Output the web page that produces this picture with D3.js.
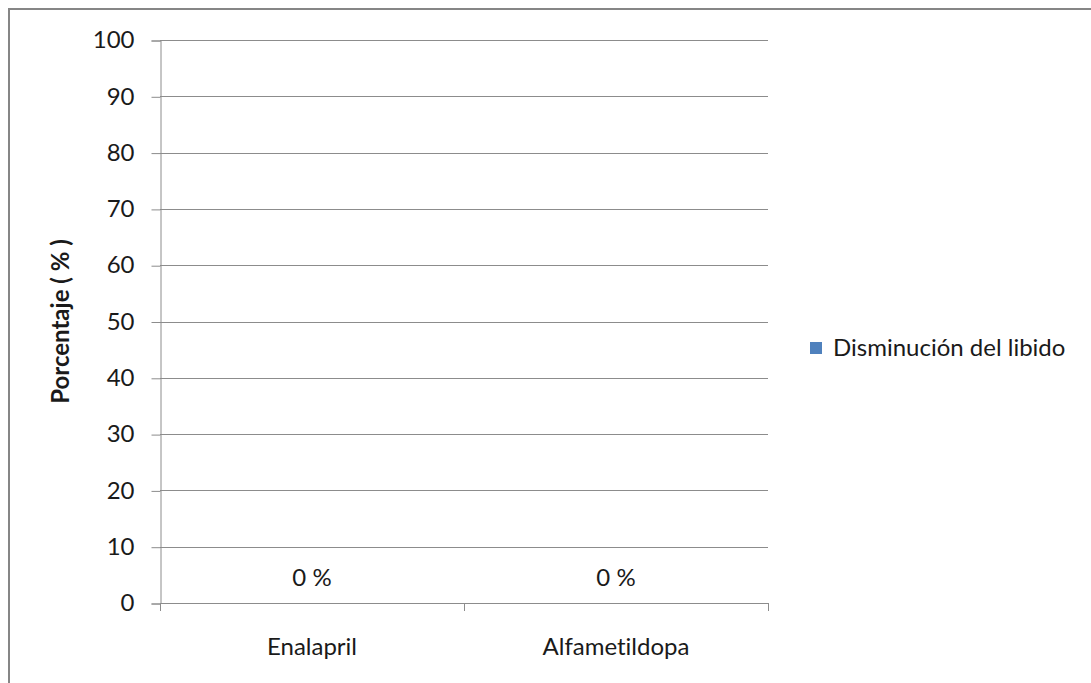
<!DOCTYPE html>
<html>
<head>
<meta charset="utf-8">
<script src="https://cdn.jsdelivr.net/npm/d3@7"></script>
<style>
  html, body { margin: 0; padding: 0; background: #fff; }
  svg { display: block; }
  text { font-family: Lato, "Open Sans", sans-serif; fill: #1a1a1a; font-variant-ligatures: none; }
</style>
</head>
<body>
<svg id="chart" width="1091" height="683"></svg>
<script>
// Chart data
const categories = ["Enalapril", "Alfametildopa"];
const seriesName = "Disminución del libido";
const seriesValues = [0, 0];
const valueLabels = ["0 %", "0 %"];
const yTicks = [0, 10, 20, 30, 40, 50, 60, 70, 80, 90, 100];

const svg = d3.select("#chart");
const W = 1091, H = 683;
const fontSize = "24px";

// outer frame of the chart area
svg.append("rect")
  .attr("x", 9).attr("y", 9)
  .attr("width", W + 10).attr("height", H + 10)
  .attr("fill", "#fff")
  .attr("stroke", "#868686")
  .attr("stroke-width", 2);

const plot = { left: 160, right: 768, top: 40, bottom: 603 };

const x = d3.scaleBand()
  .domain(categories)
  .range([plot.left, plot.right])
  .paddingInner(0.55).paddingOuter(0.275);

const xEdges = d3.scalePoint()
  .domain(d3.range(categories.length + 1))
  .range([plot.left, plot.right]);

const y = d3.scaleLinear()
  .domain([0, 100])
  .range([plot.bottom, plot.top]);

// horizontal gridlines
svg.append("g")
  .selectAll("line")
  .data(yTicks.filter(d => d > 0))
  .join("line")
  .attr("x1", plot.left).attr("x2", plot.right)
  .attr("y1", d => Math.round(y(d)) + 0.5).attr("y2", d => Math.round(y(d)) + 0.5)
  .attr("stroke", "#8c8c8c").attr("stroke-width", 1);

// y axis
const yAxis = d3.axisLeft(y).tickValues(yTicks).tickSize(9).tickPadding(17);
const gy = svg.append("g")
  .attr("transform", `translate(${plot.left + 0.5},0.5)`)
  .call(yAxis);
gy.select(".domain").attr("stroke", "#8c8c8c");
gy.selectAll(".tick line").attr("stroke", "#8c8c8c");
gy.selectAll(".tick text")
  .style("font-size", fontSize)
  .style("font-family", "Lato, sans-serif")
  .attr("fill", "#1a1a1a")
  .attr("dy", "0.3em");

// x axis baseline and category separator ticks
const gx = svg.append("g");
gx.append("line")
  .attr("x1", plot.left).attr("x2", plot.right)
  .attr("y1", plot.bottom + 0.5).attr("y2", plot.bottom + 0.5)
  .attr("stroke", "#8c8c8c");
gx.selectAll("line.sep")
  .data(d3.range(categories.length + 1))
  .join("line")
  .attr("class", "sep")
  .attr("x1", d => Math.round(xEdges(d)) + 0.5).attr("x2", d => Math.round(xEdges(d)) + 0.5)
  .attr("y1", plot.bottom).attr("y2", plot.bottom + 8)
  .attr("stroke", "#8c8c8c");

// category labels
svg.append("g")
  .selectAll("text")
  .data(categories)
  .join("text")
  .attr("x", d => x(d) + x.bandwidth() / 2)
  .attr("y", 655)
  .attr("text-anchor", "middle")
  .style("font-size", fontSize)
  .text(d => d);

// bars
svg.append("g")
  .selectAll("rect")
  .data(seriesValues)
  .join("rect")
  .attr("x", (d, i) => x(categories[i]))
  .attr("y", d => y(d))
  .attr("width", x.bandwidth())
  .attr("height", d => y(0) - y(d))
  .attr("fill", "#4f81bd");

// value labels
svg.append("g")
  .selectAll("text")
  .data(seriesValues)
  .join("text")
  .attr("x", (d, i) => x(categories[i]) + x.bandwidth() / 2)
  .attr("y", d => y(d) - 17)
  .attr("text-anchor", "middle")
  .style("font-size", fontSize)
  .text((d, i) => valueLabels[i]);

// y axis title
svg.append("text")
  .attr("transform", `translate(69,${(plot.top + plot.bottom) / 2 + 0}) rotate(-90)`)
  .attr("text-anchor", "middle")
  .style("font-size", fontSize)
  .style("font-weight", "bold")
  .text("Porcentaje ( % )");

// legend
const legend = svg.append("g").attr("transform", "translate(810,342)");
legend.append("rect").attr("width", 12).attr("height", 12).attr("fill", "#4f81bd");
legend.append("text")
  .attr("x", 23).attr("y", 14)
  .style("font-size", fontSize)
  .text(seriesName);
</script>
</body>
</html>
